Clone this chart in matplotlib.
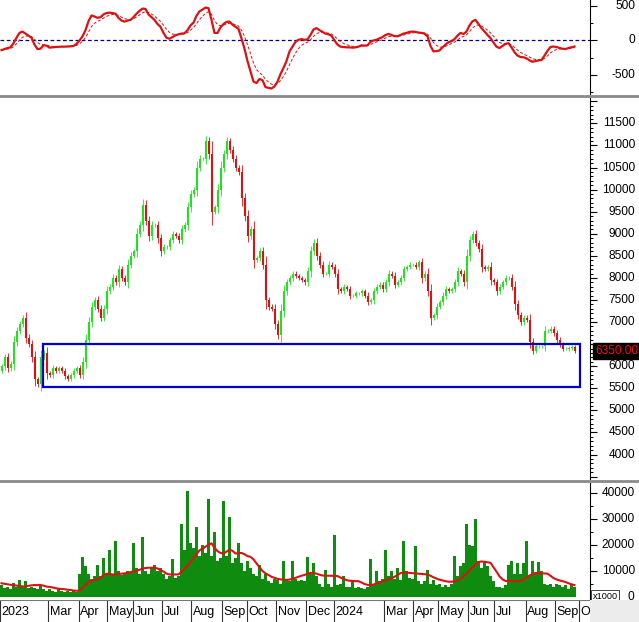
import matplotlib
matplotlib.use("Agg")
import matplotlib.pyplot as plt
import numpy as np
import pandas as pd
from matplotlib.patches import Rectangle
from matplotlib.lines import Line2D
from matplotlib.ticker import MultipleLocator
import matplotlib.transforms as mtransforms

plt.rcParams['font.family'] = ['Liberation Sans', 'DejaVu Sans']

# ---------------- data (one entry per ~2 trading days) ----------------
close = [6000, 6200, 5950, 6050, 6550, 6800, 6950, 7100, 6650, 6500, 6200, 5700,
         5600, 6200, 6300, 5850, 5800, 5950, 5900, 5950, 5900, 5780, 5720, 5800,
         5900, 5950, 5800, 6100, 6600, 7000, 7350, 7500, 7300, 7100, 7300, 7700,
         7800, 8000, 7900, 8200, 8000, 7900, 8300, 8500, 8600, 9000, 9200, 9650,
         9300, 8950, 9200, 9200, 8900, 8600, 8700, 8700, 8850, 9000, 8950, 8850,
         9100, 9200, 9600, 9900, 10000, 10500, 10700, 10700, 11100, 10800, 9500, 9600,
         10000, 10500, 10800, 11100, 10900, 10700, 10500, 10400, 9800, 9400, 8950, 9100,
         8400, 8450, 8600, 8300, 7500, 7350, 7300, 6950, 6700, 7250, 7700, 7900,
         8000, 8100, 8050, 8000, 7950, 7900, 8150, 8600, 8800, 8500, 8300, 8100,
         8100, 8300, 8250, 8100, 7750, 7700, 7800, 7750, 7600, 7600, 7650, 7650,
         7700, 7600, 7450, 7500, 7700, 7800, 7850, 7750, 7900, 8100, 8050, 7850,
         7900, 8000, 8200, 8250, 8300, 8300, 8250, 8350, 8000, 8100, 7700, 7100,
         7150, 7350, 7450, 7600, 7750, 7700, 7750, 7900, 8150, 8100, 7900, 8500,
         8850, 9000, 8800, 8650, 8250, 8200, 8250, 7950, 7900, 7700, 7800, 7900,
         8000, 8000, 7800, 7400, 7150, 7000, 7100, 7050, 6550, 6350, 6450, 6450,
         6450, 6800, 6800, 6850, 6750, 6600, 6500, 6400, 6400, 6420, 6430, 6350]

volume = [4500, 3500, 4000, 3000, 5500, 4000, 6500, 4000, 6000, 3500, 4000, 3500,
          3000, 4500, 3000, 2500, 3000, 2500, 2000, 3000, 2500, 2000, 2500, 2000,
          2500, 2000, 9000, 15500, 12000, 9000, 7000, 8000, 12500, 8000, 15000, 9000,
          18000, 9000, 21500, 10000, 8500, 9000, 10000, 9500, 21000, 11000, 9000, 23000,
          10000, 9000, 11000, 12500, 10000, 11000, 9000, 7000, 8000, 14500, 7500, 8000,
          28000, 18000, 41000, 21000, 19000, 27000, 16000, 20000, 17000, 38000, 16000, 25000,
          14000, 15000, 37000, 16000, 31000, 13000, 15000, 21000, 13000, 10000, 14000, 11000,
          9000, 8000, 12500, 7000, 9000, 6000, 5500, 7000, 6500, 5000, 14000, 7000,
          6000, 14000, 7000, 6000, 6500, 6000, 15500, 9000, 13000, 8000, 5000, 4000,
          10500, 5000, 4000, 24000, 4500, 5000, 8000, 4000, 4000, 6500, 3500, 4000,
          3500, 3000, 4000, 14500, 4500, 10000, 6000, 7000, 18000, 8000, 10000, 7000,
          11000, 6500, 21500, 10000, 7500, 7000, 19500, 6000, 5000, 6000, 10500, 5000,
          6500, 4500, 5000, 4000, 4500, 4000, 5000, 16000, 8000, 12000, 13000, 28000,
          20000, 19500, 30000, 14000, 11000, 13500, 12000, 8000, 6000, 4000, 4000, 3500,
          4500, 12500, 14000, 9000, 13000, 9000, 13000, 21500, 8000, 14000, 9000, 13500,
          10000, 5000, 4500, 5000, 4000, 5000, 4500, 4000, 4500, 3000, 4500, 4000]

volume_ma = [5300, 5100, 4900, 4700, 4600, 4400, 4200, 4100, 4100, 4300, 4500, 4600,
             4600, 4600, 4400, 4000, 3900, 3700, 3400, 3200, 3100, 3000, 2800, 2700,
             2500, 2400, 2400, 3500, 4800, 5700, 6300, 6600, 6800, 7300, 8500, 9000,
             8900, 8700, 8700, 8900, 9000, 9100, 9300, 9600, 9900, 10100, 10500, 10900,
             11200, 11300, 11300, 11300, 11000, 10400, 9800, 9000, 8700, 8700, 8700, 8700,
             9800, 10800, 12000, 13600, 15000, 16500, 18000, 18700, 19400, 20200, 20700, 19000,
             17700, 17000, 16800, 17500, 18300, 17800, 16800, 16900, 17000, 16500, 15800, 15500,
             14500, 13000, 11500, 10000, 9100, 8500, 7800, 7400, 7000, 6800, 6700, 6600,
             6700, 7100, 7400, 7800, 8200, 8500, 9000, 9300, 9300, 9000, 8600, 8300,
             8200, 8200, 8200, 8100, 8100, 7500, 7000, 6500, 6300, 6200, 6100, 6100,
             5600, 5000, 4700, 4600, 4800, 5200, 5600, 6000, 6400, 6800, 7200, 7800,
             8500, 9200, 9500, 9400, 9300, 9200, 9100, 9000, 8900, 8800, 8700, 8200,
             7600, 7100, 6700, 6400, 6100, 5900, 5900, 6000, 6400, 7000, 8000, 9000,
             10300, 11500, 12500, 13500, 13700, 13600, 13400, 13200, 11500, 9800, 8000, 6800,
             6200, 6200, 6200, 6200, 6200, 6200, 6600, 7500, 8300, 8800, 9300, 9200,
             9100, 9100, 9000, 8200, 7300, 6800, 6400, 6100, 5800, 5300, 4900, 4600]

oscillator = [-140, -125, -110, -100, -40, 40, 110, 130, 100, 70, 40, -60,
              -125, -120, -70, -75, -105, -100, -95, -92, -90, -90, -88, -85,
              -80, -50, 0, 60, 150, 280, 365, 350, 330, 340, 380, 400,
              405, 400, 390, 330, 290, 275, 290, 300, 340, 390, 430, 465,
              460, 380, 340, 300, 240, 200, 110, 40, 25, 50, 75, 90,
              100, 105, 150, 220, 260, 360, 425, 450, 480, 470, 300, 110,
              110, 190, 240, 270, 275, 230, 200, 170, 30, -120, -300, -450,
              -600, -620, -560, -580, -680, -690, -700, -670, -600, -490, -400, -300,
              -160, -90, -20, 10, 20, 10, 15, 80, 160, 180, 150, 125,
              100, 90, 70, 0, -60, -90, -95, -100, -100, -105, -100, -90,
              -70, -75, -70, -20, 0, 10, 30, 50, 80, 95, 80, 65,
              60, 80, 100, 110, 125, 130, 125, 115, 110, 100, 60, -80,
              -160, -155, -145, -100, -60, -25, -10, 20, 70, 110, 95, 130,
              220, 280, 300, 240, 180, 130, 80, 35, -30, -90, -110, -80,
              -50, -40, -100, -170, -220, -240, -245, -260, -290, -310, -300, -290,
              -285, -220, -150, -95, -88, -95, -110, -120, -125, -110, -100, -88]

month_labels = ["2023", "Mar", "Apr", "May", "Jun", "Jul", "Aug", "Sep", "Oct", "Nov",
                "Dec", "2024", "Mar", "Apr", "May", "Jun", "Jul", "Aug", "Sep", "Oct"]
month_starts = [-0.5, 15.5, 25.8, 35.2, 43.8, 53.5, 63.2, 73.5, 81.8, 91.5,
                101.5, 110.8, 127.5, 137.2, 145.5, 155.5, 164.2, 174.8, 184.5, 192.5]

box_price_low, box_price_high = 5530, 6510
box_idx_start, box_idx_end = 13.8, 192.8
last_price = 6350

assert len(close) == len(volume) == len(volume_ma) == len(oscillator)

# ---------------- figure layout ----------------
W, H = 639, 622
fig = plt.figure(figsize=(W / 100, H / 100), dpi=100)
fig.patch.set_facecolor("white")


def ax_px(x0, y0, x1, y1):
    return fig.add_axes([x0 / W, 1 - y1 / H, (x1 - x0) / W, (y1 - y0) / H])


AXR = 590
ax_osc = ax_px(0, 0, AXR, 94)
ax_pr = ax_px(0, 98, AXR, 479)
ax_vol = ax_px(0, 483, AXR, 600)
ax_dt = ax_px(0, 600, AXR, 622)

n = len(close)
idx = np.arange(n)
xlim = (-0.5, AXR / 3 - 0.5)

for ax in (ax_osc, ax_pr, ax_vol, ax_dt):
    ax.set_xlim(*xlim)
    ax.set_xticks([])
    for s in ("left", "top", "bottom"):
        ax.spines[s].set_visible(False)
    ax.spines["right"].set_color("black")
    ax.spines["right"].set_linewidth(0.8)
    ax.set_facecolor("white")
    ax.yaxis.tick_right()
    ax.tick_params(axis="y", which="major", direction="out", length=5, width=0.8,
                   labelright=False, labelleft=False)
    ax.tick_params(axis="y", which="minor", direction="out", length=2.5, width=0.7)

lab_x = 635 / AXR
lab_fs = 8.6

# ---------------- oscillator ----------------
osc = pd.Series(oscillator, dtype=float)
signal = osc.ewm(span=5, adjust=False).mean()
ax_osc.set_ylim(-780, 590)
ax_osc.axhline(0, color="#000080", lw=0.9, ls=(0, (3, 2)))
ax_osc.plot(idx, signal, color="#dd1111", lw=0.7, ls=(0, (3, 2)))
ax_osc.plot(idx, osc, color="#dd1111", lw=1.6)
ax_osc.yaxis.set_major_locator(MultipleLocator(500))
ax_osc.yaxis.set_minor_locator(MultipleLocator(250))
tr = mtransforms.blended_transform_factory(ax_osc.transAxes, ax_osc.transData)
for v in (500, 0, -500):
    ax_osc.text(lab_x, v, f"{v}", transform=tr, ha="right", va="center",
                fontsize=lab_fs, clip_on=False)

# ---------------- price candles ----------------
c = np.array(close, dtype=float)
o = np.concatenate([[c[0] - 100], c[:-1]])
up = c >= o
body_lo = np.minimum(o, c)
body_hi = np.maximum(o, c)
span = body_hi - body_lo
hi = body_hi + 0.2 * span + 40
lo = body_lo - 0.2 * span - 40
cols = np.where(up, "#22e022", "#dd1111")
ax_pr.set_ylim(3446, 12075)
ax_pr.vlines(idx, lo, hi, colors=cols, lw=0.6)
ax_pr.vlines(idx, body_lo, body_hi, colors=cols, lw=1.5)
ax_pr.add_patch(Rectangle((box_idx_start, box_price_low), box_idx_end - box_idx_start,
                          box_price_high - box_price_low, fill=False,
                          edgecolor="#0000cc", lw=1.6, zorder=5))
ax_pr.yaxis.set_major_locator(MultipleLocator(500))
ax_pr.yaxis.set_minor_locator(MultipleLocator(100))
tr = mtransforms.blended_transform_factory(ax_pr.transAxes, ax_pr.transData)
for v in range(4000, 12000, 500):
    if abs(v - last_price) < 250:
        continue  # hidden behind the last-price marker
    ax_pr.text(lab_x, v, f"{v}", transform=tr, ha="right", va="center",
               fontsize=lab_fs, clip_on=False)
ax_pr.text(lab_x + 3 / AXR, last_price, f"{last_price:.2f}", transform=tr, ha="right",
           va="center", fontsize=lab_fs, color="#ee1111", clip_on=False, zorder=10,
           bbox=dict(facecolor="black", edgecolor="black", pad=1.6))

# ---------------- volume ----------------
ax_vol.set_ylim(-1160, 44000)
ax_vol.bar(idx, volume, width=0.92, color="#0f8c0f", linewidth=0)
ax_vol.plot(idx, volume_ma, color="#dd1111", lw=1.5)
ax_vol.yaxis.set_major_locator(MultipleLocator(10000))
ax_vol.yaxis.set_minor_locator(MultipleLocator(5000))
tr = mtransforms.blended_transform_factory(ax_vol.transAxes, ax_vol.transData)
for v in range(10000, 50000, 10000):
    ax_vol.text(lab_x, v, f"{v}", transform=tr, ha="right", va="center",
                fontsize=lab_fs, clip_on=False)
ax_vol.text(lab_x - 1 / AXR, 0, "0", transform=tr, ha="right", va="center",
            fontsize=lab_fs, clip_on=False)
ax_vol.text(605 / AXR, 300, "x1000", transform=tr, ha="center", va="center",
            fontsize=6.6, clip_on=False,
            bbox=dict(facecolor="white", edgecolor="#444444", lw=0.7, pad=1.3))

# ---------------- date strip ----------------
ax_dt.set_ylim(0, 1)
ax_dt.set_yticks([])
ax_dt.spines["right"].set_visible(False)
for pos, lab in zip(month_starts, month_labels):
    ax_dt.axvline(pos, color="#333333", lw=0.8)
    ax_dt.text(pos + 0.5, 0.45, lab, ha="left", va="center", fontsize=9, clip_on=True)
ax_dt.axhline(1, color="#777777", lw=0.8)

# right-bottom corner
fig.add_artist(Rectangle((AXR / W, 0), 1 - AXR / W, 22 / H, transform=fig.transFigure,
                         facecolor="#ececec", edgecolor="none"))

# separators between panels
for ypx in (96, 481):
    fig.add_artist(Line2D([0, 1], [1 - ypx / H, 1 - ypx / H], transform=fig.transFigure,
                          color="#8a8a8a", lw=2.0))

fig.savefig("out.png", dpi=100, facecolor="white")
